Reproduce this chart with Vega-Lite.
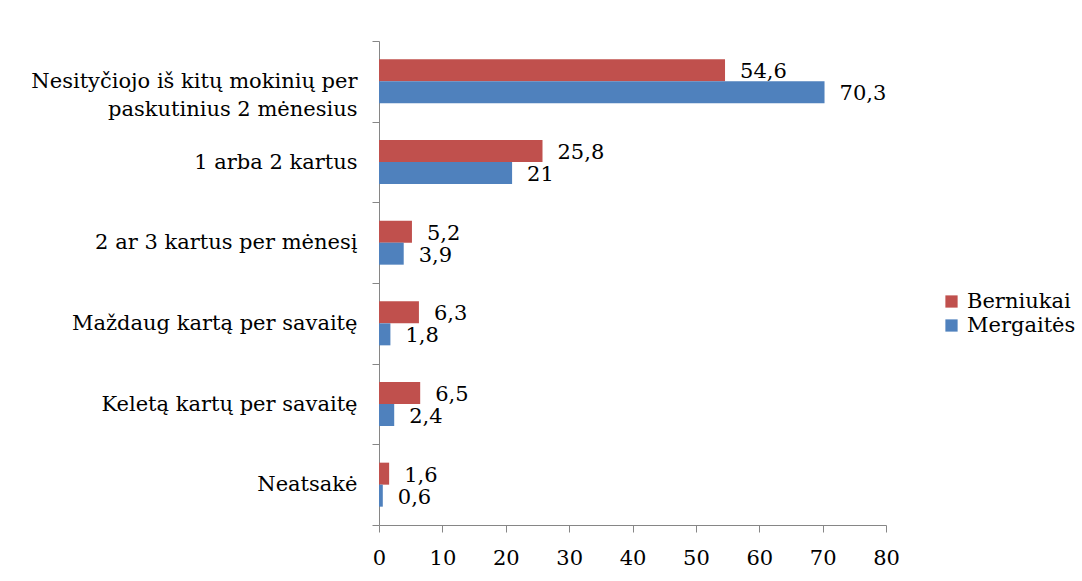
{
  "$schema": "https://vega.github.io/schema/vega-lite/v6.json",
  "width": 507,
  "height": 484,
  "autosize": {"type": "none"},
  "padding": {"left": 379, "top": 41, "right": 196, "bottom": 56},
  "background": "white",
  "config": {
    "view": {"stroke": null},
    "font": "DejaVu Serif",
    "locale": {"number": {"decimal": ",", "thousands": " ", "grouping": [3], "currency": ["", " €"]}}
  },
  "data": {
    "values": [
      {"category": "Nesityčiojo iš kitų mokinių per|paskutinius 2 mėnesius", "group": "Berniukai", "value": 54.6},
      {"category": "Nesityčiojo iš kitų mokinių per|paskutinius 2 mėnesius", "group": "Mergaitės", "value": 70.3},
      {"category": "1 arba 2 kartus", "group": "Berniukai", "value": 25.8},
      {"category": "1 arba 2 kartus", "group": "Mergaitės", "value": 21},
      {"category": "2 ar 3 kartus per mėnesį", "group": "Berniukai", "value": 5.2},
      {"category": "2 ar 3 kartus per mėnesį", "group": "Mergaitės", "value": 3.9},
      {"category": "Maždaug kartą per savaitę", "group": "Berniukai", "value": 6.3},
      {"category": "Maždaug kartą per savaitę", "group": "Mergaitės", "value": 1.8},
      {"category": "Keletą kartų per savaitę", "group": "Berniukai", "value": 6.5},
      {"category": "Keletą kartų per savaitę", "group": "Mergaitės", "value": 2.4},
      {"category": "Neatsakė", "group": "Berniukai", "value": 1.6},
      {"category": "Neatsakė", "group": "Mergaitės", "value": 0.6}
    ]
  },
  "encoding": {
    "y": {
      "field": "category", "type": "nominal", "sort": null,
      "scale": {"paddingInner": 0, "paddingOuter": 0},
      "axis": {
        "title": null, "labelExpr": "split(datum.label, '|')",
        "tickBand": "extent", "domainColor": "#868686", "tickColor": "#868686",
        "tickSize": 7, "labelPadding": 15, "labelFontSize": 21, "labelColor": "#000000",
        "labelFont": "DejaVu Serif", "labelLimit": 500, "labelLineHeight": 28
      }
    },
    "yOffset": {
      "field": "group", "type": "nominal",
      "scale": {"paddingInner": 0, "paddingOuter": 0.833}
    },
    "x": {
      "field": "value", "type": "quantitative",
      "scale": {"domain": [0, 80], "nice": false},
      "axis": {
        "title": null, "values": [0, 10, 20, 30, 40, 50, 60, 70, 80], "grid": false,
        "domainColor": "#868686", "tickColor": "#868686", "tickSize": 7,
        "labelPadding": 15, "labelFontSize": 21, "labelColor": "#000000",
        "labelFont": "DejaVu Serif", "labelFlush": false
      }
    }
  },
  "layer": [
    {
      "mark": {"type": "bar"},
      "encoding": {
        "color": {
          "field": "group", "type": "nominal",
          "scale": {"domain": ["Berniukai", "Mergaitės"], "range": ["#C0504D", "#4F81BD"]},
          "legend": {
            "title": null, "orient": "none", "legendX": 562, "legendY": 250,
            "symbolType": "square", "symbolSize": 150, "symbolStrokeWidth": 0,
            "labelFontSize": 21, "labelFont": "DejaVu Serif", "labelColor": "#000000",
            "rowPadding": 2, "labelOffset": 5
          }
        }
      }
    },
    {
      "mark": {"type": "text", "align": "left", "baseline": "middle", "dx": 15, "dy": 2, "fontSize": 21, "font": "DejaVu Serif", "color": "#000000"},
      "encoding": {
        "text": {"field": "value", "type": "quantitative", "format": ".1~f"}
      }
    }
  ]
}
